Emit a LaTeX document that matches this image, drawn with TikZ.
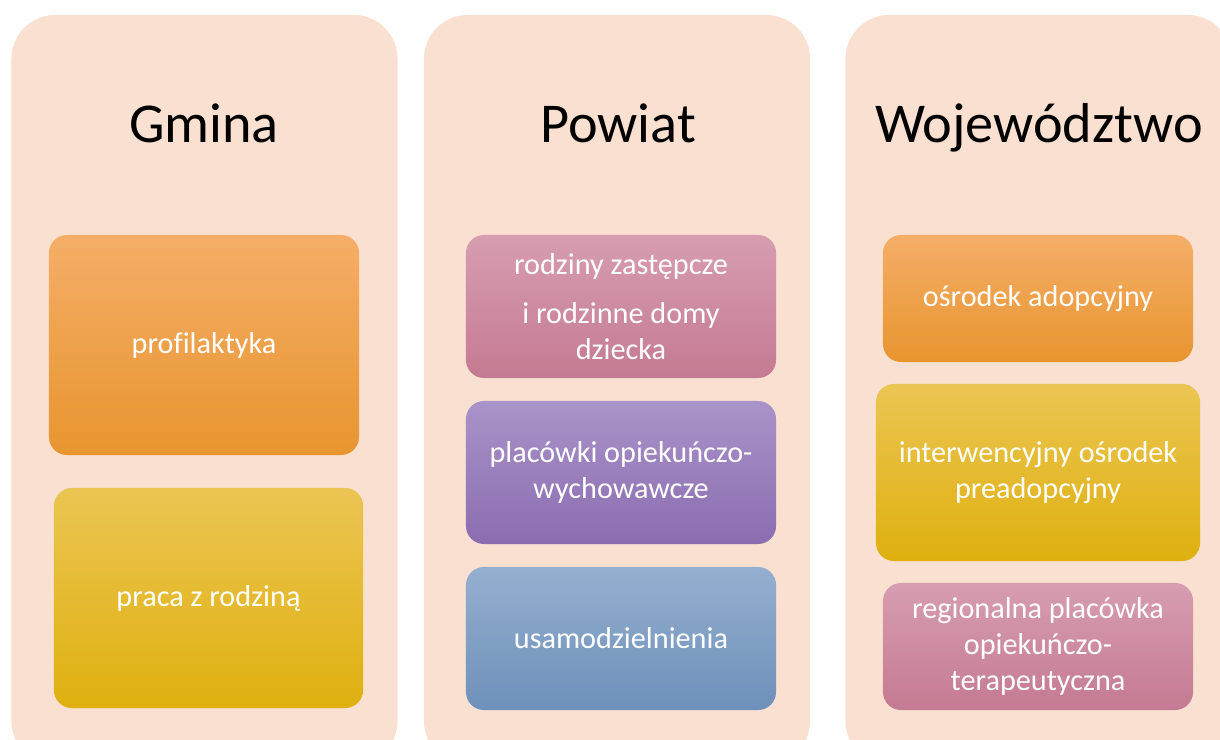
\documentclass[tikz,border=0pt]{standalone}
\usepackage{fontspec}
\setmainfont{Carlito}[Ligatures=NoCommon]
\definecolor{tlo}{HTML}{F9E0D0}
\definecolor{pomA}{HTML}{F5AE68}
\definecolor{pomB}{HTML}{FBA43F}
\definecolor{pomC}{HTML}{E8952F}
\definecolor{zolA}{HTML}{EBC553}
\definecolor{zolB}{HTML}{F1C420}
\definecolor{zolC}{HTML}{DFB00F}
\definecolor{rozA}{HTML}{D79DB1}
\definecolor{rozB}{HTML}{D08CA3}
\definecolor{rozC}{HTML}{C47A92}
\definecolor{filA}{HTML}{A993C9}
\definecolor{filB}{HTML}{9B80BD}
\definecolor{filC}{HTML}{8B6DB0}
\definecolor{nieA}{HTML}{95AFCF}
\definecolor{nieB}{HTML}{80A0C5}
\definecolor{nieC}{HTML}{6E90BA}

\begin{document}
\begin{tikzpicture}[
    x=0.025cm, y=-0.025cm,
    kolumna/.style={
      fill=tlo,
      rounded corners=1.1cm,
      minimum width=9.65cm,
      minimum height=18.75cm,
      inner sep=0pt},
    tytul/.style={
      anchor=base,
      font=\fontsize{40}{48}\selectfont},
    pole/.style={
      rounded corners=0.45cm,
      minimum width=7.75cm,
      inner sep=0pt,
      align=center,
      text=white,
      font=\fontsize{21.5}{25.5}\selectfont},
    pomaranczowe/.style={top color=pomA, middle color=pomB, bottom color=pomC},
    zolte/.style={top color=zolA, middle color=zolB, bottom color=zolC},
    rozowe/.style={top color=rozA, middle color=rozB, bottom color=rozC},
    fioletowe/.style={top color=filA, middle color=filB, bottom color=filC},
    niebieskie/.style={top color=nieA, middle color=nieB, bottom color=nieC}
    ]

  \useasboundingbox (0,0) rectangle (1220,740);
  \clip (0,0) rectangle (1220,740);

  % kolumny
  \node at (204.5,390) (gmina) [kolumna] {};
  \node at (617,390) (powiat) [kolumna] {};
  \node at (1038.5,390) (wojewodztwo) [kolumna] {};

  \node at (204,143) (tgmina) [tytul] {Gmina};
  \node at (618,143) (tpowiat) [tytul] {Powiat};
  \node at (1039,143) (twojewodztwo) [tytul] {Województwo};

  % gmina
  \node at (204,345) (profilaktyka) [pole, pomaranczowe, minimum width=7.75cm, minimum height=5.5cm] {profilaktyka};
  \node at (208.5,598) (praca) [pole, zolte, minimum width=7.73cm, minimum height=5.5cm] {praca z rodziną};

  % powiat
  \node at (621,306.5) (rodziny) [pole, rozowe, minimum height=3.575cm] {rodziny zastępcze\\[9pt] i rodzinne domy\\ dziecka};
  \node at (621,472.5) (placowki) [pole, fioletowe, minimum height=3.575cm] {placówki opiekuńczo-\\wychowawcze};
  \node at (621,638.5) (usamodzielnienia) [pole, niebieskie, minimum height=3.575cm] {usamodzielnienia};

  % wojewodztwo
  \node at (1038,298.5) (adopcyjny) [pole, pomaranczowe, minimum height=3.175cm] {ośrodek adopcyjny};
  \node at (1038,472.5) (interwencyjny) [pole, zolte, minimum width=8.1cm, minimum height=4.425cm] {interwencyjny ośrodek\\preadopcyjny};
  \node at (1038,646.5) (regionalna) [pole, rozowe, minimum height=3.175cm] {regionalna placówka\\opiekuńczo-\\terapeutyczna};

\end{tikzpicture}
\end{document}
